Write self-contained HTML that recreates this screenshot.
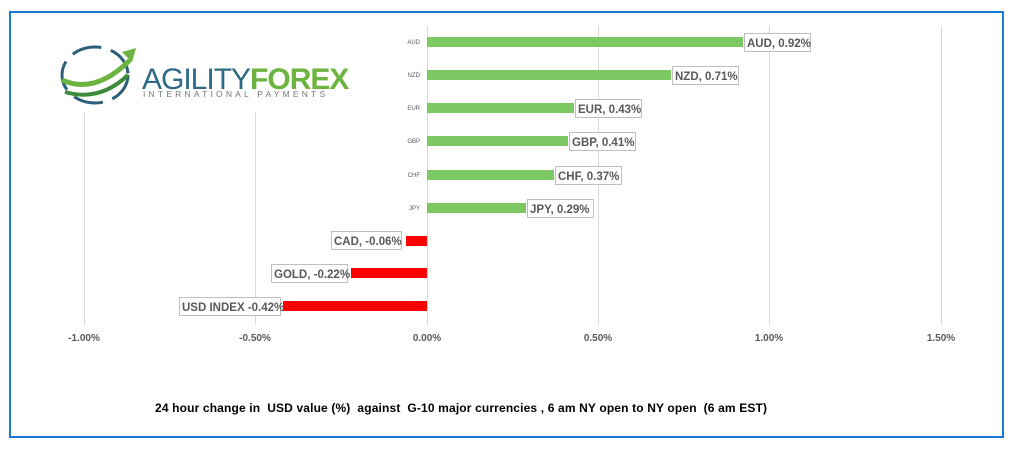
<!DOCTYPE html>
<html><head><style>
body{margin:0;background:#fff;}
svg{display:block;font-family:"Liberation Sans",sans-serif;}
</style></head><body>
<svg width="1024" height="453" viewBox="0 0 1024 453">
<rect x="10" y="12" width="993" height="425" fill="#fff" stroke="#1a7ad4" stroke-width="2"/>
<g stroke="#d9d9d9" stroke-width="1">
<line x1="84.5" y1="26" x2="84.5" y2="325"/>
<line x1="255.5" y1="26" x2="255.5" y2="325"/>
<line x1="598.5" y1="26" x2="598.5" y2="325"/>
<line x1="769.5" y1="26" x2="769.5" y2="325"/>
<line x1="941.5" y1="26" x2="941.5" y2="325"/>
<line x1="427.5" y1="26" x2="427.5" y2="325"/>
</g>
<g fill="#7cc963">
<rect x="427" y="37" width="316" height="10"/>
<rect x="427" y="70" width="244" height="10"/>
<rect x="427" y="103" width="147" height="10"/>
<rect x="427" y="136" width="141" height="10"/>
<rect x="427" y="170" width="127" height="10"/>
<rect x="427" y="203" width="99" height="10"/>
</g>
<g fill="#ff0000">
<rect x="406" y="236" width="21" height="10"/>
<rect x="351" y="268" width="76" height="10"/>
<rect x="283" y="301" width="144" height="10"/>
</g>
<g font-size="6" fill="#595959" text-anchor="end">
<text x="420" y="44">AUD</text><text x="420" y="77">NZD</text><text x="420" y="110">EUR</text>
<text x="420" y="143">GBP</text><text x="420" y="177">CHF</text><text x="420" y="210">JPY</text>
</g>
<g fill="#fff" stroke="#bfbfbf" stroke-width="1">
<rect x="744.5" y="33.5" width="66" height="18"/>
<rect x="672.5" y="66.5" width="66" height="18"/>
<rect x="575.5" y="99.5" width="66" height="18"/>
<rect x="569.5" y="132.5" width="66" height="18"/>
<rect x="555.5" y="166.5" width="66" height="18"/>
<rect x="527.5" y="199.5" width="66" height="18"/>
<rect x="331.5" y="231.5" width="70" height="18"/>
<rect x="271.5" y="264.5" width="76" height="18"/>
<rect x="179.5" y="297.5" width="101" height="18"/>
</g>
<g font-size="11.5" font-weight="bold" fill="#595959">
<text x="747" y="47">AUD, 0.92%</text>
<text x="675" y="80">NZD, 0.71%</text>
<text x="578" y="113">EUR, 0.43%</text>
<text x="572" y="146">GBP, 0.41%</text>
<text x="558" y="180">CHF, 0.37%</text>
<text x="530" y="213">JPY, 0.29%</text>
<text x="334" y="245">CAD, -0.06%</text>
<text x="274" y="278">GOLD, -0.22%</text>
<text x="182" y="311">USD INDEX -0.42%</text>
</g>
<g font-size="10" font-weight="bold" fill="#595959" text-anchor="middle">
<text x="84" y="341">-1.00%</text><text x="255" y="341">-0.50%</text><text x="427" y="341">0.00%</text>
<text x="598" y="341">0.50%</text><text x="769" y="341">1.00%</text><text x="941" y="341">1.50%</text>
</g>
<text x="155" y="412" font-size="12" font-weight="bold" fill="#000" style="white-space:pre" textLength="612" lengthAdjust="spacing">24 hour change in  USD value (%)  against  G-10 major currencies , 6 am NY open to NY open  (6 am EST)</text>
<g>
<rect x="50" y="22" width="290" height="90" fill="#fff"/>
<ellipse cx="95" cy="75" rx="33" ry="28" fill="none" stroke="#2a5f7a" stroke-width="3" stroke-dasharray="30 10"/>
<path d="M62 80 Q95 95 130 60" stroke="#6cb33f" stroke-width="5" fill="none"/>
<path d="M65 92 Q100 102 128 75" stroke="#3c8a3a" stroke-width="4" fill="none"/>
<polygon points="122,52 136,48 132,62" fill="#6cb33f"/>
<text x="142" y="89" font-size="30" fill="#2e6a85" letter-spacing="-1">AGILITY<tspan fill="#6cb33f" font-weight="bold">FOREX</tspan></text>
<text x="143" y="97" font-size="8.5" fill="#777" letter-spacing="3.2">INTERNATIONAL PAYMENTS</text>
</g>
</svg>
</body></html>
